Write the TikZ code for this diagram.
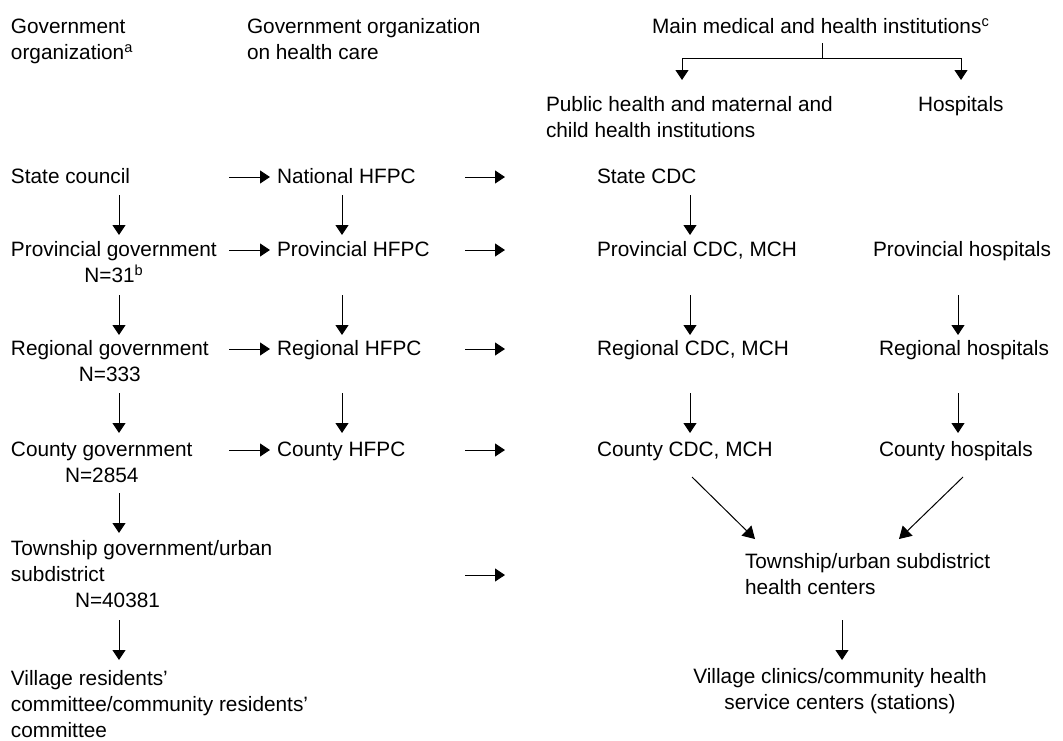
\documentclass[tikz,border=0pt]{standalone}
\usepackage{fontspec}
\setmainfont{Liberation Sans}
\usetikzlibrary{arrows.meta}
\begin{document}
\begin{tikzpicture}[x=0.75pt,y=-0.75pt,
  txt/.style={inner sep=0pt, outer sep=0pt, anchor=north west, align=left,
    font=\fontsize{15.6}{19.5}\selectfont},
  ctxt/.style={txt, align=center},
  arr/.style={-{Triangle[length=7.5pt,width=9.75pt]}, line width=0.75pt},
  darr/.style={-{Triangle[length=9pt,width=10.5pt]}, line width=0.75pt},
  ln/.style={line width=0.75pt}]
\useasboundingbox (0,0) rectangle (1063,740);

% headers
\node[txt] (gov) at (11,14.8) {\strut Government\\organization\textsuperscript{a}};
\node[txt] (govhc) at (247,14.8) {\strut Government organization\\on health care};
\node[txt] (main) at (652,14.8) {\strut Main medical and health institutions\textsuperscript{c}};
\node[txt] (pub) at (546,92.8) {\strut Public health and maternal and\\child health institutions};
\node[txt] (hosp) at (918,92.8) {\strut Hospitals};

% rows
\node[txt] (sc) at (11,164.8) {\strut State council};
\node[txt] (nh) at (277,164.8) {\strut National HFPC};
\node[txt] (scdc) at (597,164.8) {\strut State CDC};

\node[ctxt] (pg) at (11,237.8) {\strut Provincial government\\N=31\textsuperscript{b}};
\node[txt] (ph) at (277,237.8) {\strut Provincial HFPC};
\node[txt] (pcdc) at (597,237.8) {\strut Provincial CDC, MCH};
\node[txt] (phosp) at (873,237.8) {\strut Provincial hospitals};

\node[ctxt] (rg) at (11,336.8) {\strut Regional government\\N=333};
\node[txt] (rh) at (277,336.8) {\strut Regional HFPC};
\node[txt] (rcdc) at (597,336.8) {\strut Regional CDC, MCH};
\node[txt] (rhosp) at (879,336.8) {\strut Regional hospitals};

\node[ctxt] (cg) at (11,437.8) {\strut County government\\N=2854};
\node[txt] (ch) at (277,437.8) {\strut County HFPC};
\node[txt] (ccdc) at (597,437.8) {\strut County CDC, MCH};
\node[txt] (chosp) at (879,437.8) {\strut County hospitals};

\node[txt] (tg) at (11,536.8) {\strut Township government/urban\\subdistrict\\\hspace*{48pt}N=40381};
\node[txt] (thc) at (745,549.8) {\strut Township/urban subdistrict\\health centers};

\node[txt] (vr) at (11,666.8) {\strut Village residents’\\committee/community residents’\\committee};
\node[ctxt, anchor=north] (vc) at (840,664.8) {\strut Village clinics/community health\\service centers (stations)};

% branch at top
\coordinate (mb) at (822,43);
\coordinate (mj) at (822,58);
\coordinate (bl) at (682,58);
\coordinate (br) at (961,58);
\coordinate (blt) at (682,80);
\coordinate (brt) at (961,80);
\draw[ln] (mb) -- (mj);
\draw[ln] (bl) -- (br);
\draw[arr] (bl) -- (blt);
\draw[arr] (br) -- (brt);

% horizontal arrows
\foreach \n/\y in {s/177,p/250,r/349,c/450}{
  \coordinate (h1a\n) at (229,\y);
  \coordinate (h1b\n) at (270,\y);
  \coordinate (h2a\n) at (465,\y);
  \coordinate (h2b\n) at (505,\y);
  \draw[arr] (h1a\n) -- (h1b\n);
  \draw[arr] (h2a\n) -- (h2b\n);
}
\coordinate (h2at) at (465,575);
\coordinate (h2bt) at (505,575);
\draw[arr] (h2at) -- (h2bt);

% vertical arrows
\foreach \x/\c in {119/a,342/b,690/c}{
  \foreach \ya/\yb/\r in {195/235/1,295/335/2,393/433/3}{
    \coordinate (v\c\r s) at (\x,\ya);
    \coordinate (v\c\r e) at (\x,\yb);
    \draw[arr] (v\c\r s) -- (v\c\r e);
  }
}
\foreach \ya/\yb/\r in {295/335/2,393/433/3}{
  \coordinate (vd\r s) at (958,\ya);
  \coordinate (vd\r e) at (958,\yb);
  \draw[arr] (vd\r s) -- (vd\r e);
}
\coordinate (va4s) at (119,493);
\coordinate (va4e) at (119,533);
\draw[arr] (va4s) -- (va4e);
\coordinate (va5s) at (119,620);
\coordinate (va5e) at (119,660);
\draw[arr] (va5s) -- (va5e);

% diagonals and bottom
\coordinate (d1s) at (692,477);
\coordinate (d1e) at (755,539);
\coordinate (d2s) at (963,477);
\coordinate (d2e) at (899,539);
\draw[darr] (d1s) -- (d1e);
\draw[darr] (d2s) -- (d2e);
\coordinate (vts) at (842,620);
\coordinate (vte) at (842,660);
\draw[arr] (vts) -- (vte);
\end{tikzpicture}
\end{document}
